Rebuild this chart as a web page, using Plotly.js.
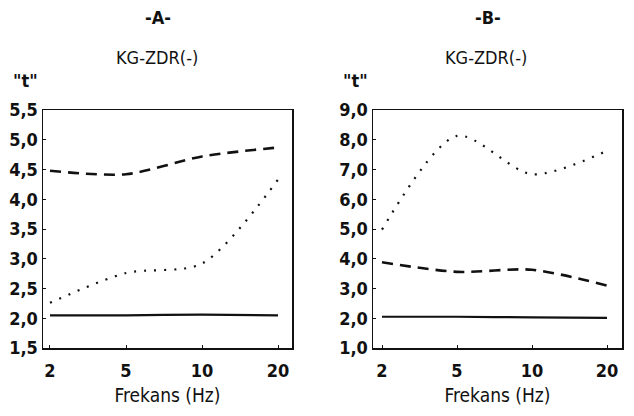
<!DOCTYPE html>
<html>
<head>
<meta charset="utf-8">
<script src="https://cdn.plot.ly/plotly-3.0.1.min.js"></script>
<style>html,body{margin:0;padding:0;background:#fff;}#chart{width:634px;height:416px;}</style>
</head>
<body>
<div id="chart"></div>
<script>
var freqLabels = ['2', '5', '10', '20'];
var A_solid  = [2.05, 2.05, 2.06, 2.05];
var A_dashed = [4.48, 4.42, 4.72, 4.87];
var A_dotted = [2.26, 2.76, 2.92, 4.33];
var B_solid  = [2.05, 2.05, 2.03, 2.01];
var B_dashed = [3.88, 3.56, 3.63, 3.10];
var B_dotted = [4.98, 8.13, 6.84, 7.63];
var A_ticks = [1.5, 2.0, 2.5, 3.0, 3.5, 4.0, 4.5, 5.0, 5.5];
var B_ticks = [1, 2, 3, 4, 5, 6, 7, 8, 9];

var FONT = 'DejaVu Sans Condensed, sans-serif';
var ink = '#111';

function tr(y, xa, ya, style) {
  var line = {color: ink, shape: 'spline', smoothing: 0.8};
  if (style === 'solid') { line.width = 2.2; line.dash = 'solid'; }
  if (style === 'dash')  { line.width = 2.6; line.dash = '11px,7px'; }
  if (style === 'dot')   { line.width = 2.2; line.dash = '2px,8px'; }
  return {x: freqLabels, y: y, xaxis: xa, yaxis: ya, type: 'scatter', mode: 'lines',
          line: line, showlegend: false, hoverinfo: 'skip'};
}

var data = [
  tr(A_solid, 'x', 'y', 'solid'),
  tr(A_dashed, 'x', 'y', 'dash'),
  tr(A_dotted, 'x', 'y', 'dot'),
  tr(B_solid, 'x2', 'y2', 'solid'),
  tr(B_dashed, 'x2', 'y2', 'dash'),
  tr(B_dotted, 'x2', 'y2', 'dot')
];

function xax(domain, range) {
  return {domain: domain, type: 'category', range: range, showgrid: false, zeroline: false,
    showline: true, mirror: true, linecolor: ink, linewidth: 1.5,
    ticks: 'inside', ticklen: 3, tickcolor: ink, ticklabelstandoff: 6,
    tickfont: {family: FONT, size: 18, color: ink, weight: 'bold'},
    title: {text: 'Frekans (Hz)', font: {family: FONT, size: 19, color: ink}, standoff: 8},
    automargin: false, fixedrange: true};
}
function yax(domain, range, tv, anchor) {
  return {domain: domain, anchor: anchor, range: range, showgrid: false, zeroline: false,
    showline: true, mirror: true, linecolor: ink, linewidth: 1.5,
    ticks: 'inside', ticklen: 3, tickcolor: ink,
    tickvals: tv, tickformat: '.1f',
    tickfont: {family: FONT, size: 18, color: ink, weight: 'bold'},
    automargin: false, fixedrange: true};
}

var yd = [1 - 348/416, 1 - 110/416];
var layout = {
  width: 634, height: 416,
  margin: {l: 0, r: 0, t: 0, b: 0},
  paper_bgcolor: '#fff', plot_bgcolor: '#fff',
  separators: ',.',
  showlegend: false,
  xaxis: Object.assign(xax([43/634, 292/634], [-0.092, 3.184]), {anchor: 'y'}),
  yaxis: yax(yd, [1.5, 5.5], A_ticks, 'x'),
  xaxis2: Object.assign(xax([373/634, 622/634], [-0.12, 3.2]), {anchor: 'y2'}),
  yaxis2: yax(yd, [1.0, 9.0], B_ticks, 'x2'),
  annotations: [
    {text: '-A-', x: 158/634, y: 1 - 18/416, font: {family: FONT, size: 18, color: ink, weight: 'bold'}},
    {text: 'KG-ZDR(-)', x: 157/634, y: 1 - 57/416},
    {text: '"t"', x: 25/634, y: 1 - 81/416, font: {family: FONT, size: 18, color: ink, weight: 'bold'}},
    {text: '-B-', x: 488/634, y: 1 - 18/416, font: {family: FONT, size: 18, color: ink, weight: 'bold'}},
    {text: 'KG-ZDR(-)', x: 486/634, y: 1 - 57/416},
    {text: '"t"', x: 356/634, y: 1 - 81/416, font: {family: FONT, size: 18, color: ink, weight: 'bold'}}
  ].map(function (a) {
    return Object.assign({xref: 'paper', yref: 'paper', showarrow: false,
      xanchor: 'center', yanchor: 'middle',
      font: {family: FONT, size: 18, color: ink}}, a);
  })
};

Plotly.newPlot('chart', data, layout, {staticPlot: true, displayModeBar: false});
</script>
</body>
</html>
